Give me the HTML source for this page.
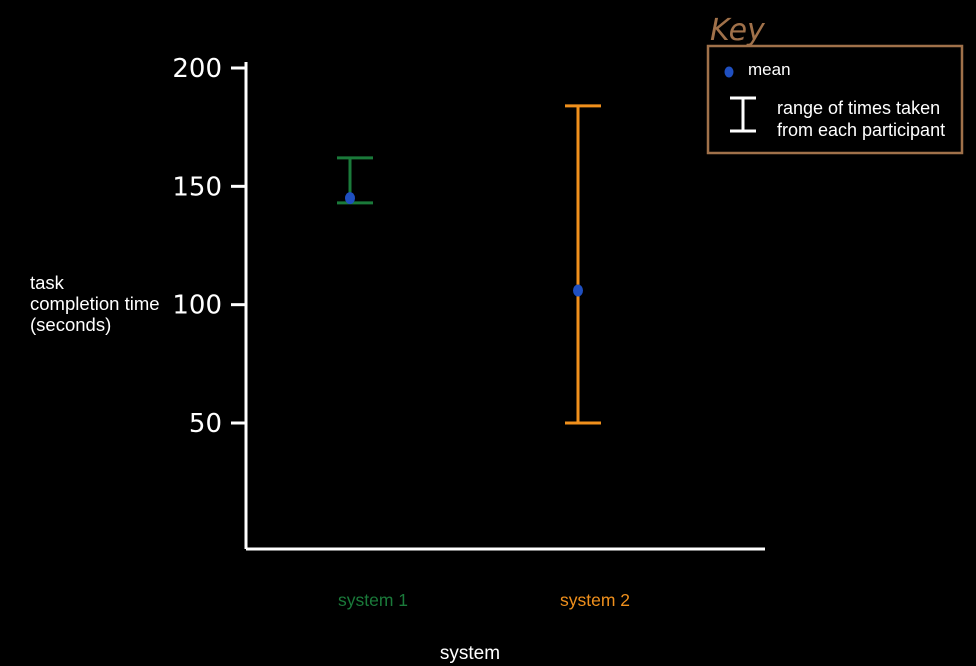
<!DOCTYPE html>
<html><head><meta charset="utf-8"><style>
html,body{margin:0;padding:0;background:#000;width:976px;height:666px;overflow:hidden}
svg{display:block}
.hand{font-family:"Comic Sans MS","DejaVu Sans",sans-serif}
</style></head><body>
<svg id="chart" width="976" height="666" xmlns="http://www.w3.org/2000/svg">
<line x1="246" y1="62" x2="246" y2="549" stroke="#fff" stroke-width="3"/>
<line x1="246" y1="549" x2="765" y2="549" stroke="#fff" stroke-width="3"/>
<g id="ticks"></g>
<g id="marks"></g>
<text x="30" y="289" fill="#fff" font-family="Liberation Sans, sans-serif" font-size="18.5"><tspan x="30">task</tspan><tspan x="30" dy="21">completion time</tspan><tspan x="30" dy="21">(seconds)</tspan></text>
<text x="470" y="659" fill="#fff" text-anchor="middle" font-family="Liberation Sans, sans-serif" font-size="19">system</text>
<g>
<text x="710" y="40" fill="#a0714a" class="hand" font-size="30" font-style="italic">Key</text>
<rect x="708" y="46" width="254" height="107" fill="none" stroke="#a0714a" stroke-width="2.5"/>
<ellipse cx="729" cy="72" rx="4.5" ry="5.5" fill="#1f4fc0"/>
<text x="748" y="75" fill="#fff" font-family="Liberation Sans, sans-serif" font-size="17">mean</text>
<g stroke="#fff" stroke-width="3">
<line x1="730" y1="98" x2="756" y2="98"/><line x1="743" y1="98" x2="743" y2="131"/><line x1="730" y1="131" x2="756" y2="131"/></g>
<text fill="#fff" font-family="Liberation Sans, sans-serif" font-size="18"><tspan x="777" y="114">range of times taken</tspan><tspan x="777" y="136">from each participant</tspan></text>
</g>
</svg>
<script>
const categories=["system 1","system 2"];
const colors=["#1a7a3a","#f0901c"];
const lows=[143,50];
const highs=[162,184];
const means=[145,106];
const tickValues=[50,100,150,200];
const tickLabels=["50","100","150","200"];
const NS="http://www.w3.org/2000/svg";
function y(v){return 423-(v-50)*(355/150);}
function x(i){return [350,578][i];}
function mk(tag,attrs,parent){const e=document.createElementNS(NS,tag);for(const k in attrs)e.setAttribute(k,attrs[k]);parent.appendChild(e);return e;}
const tg=document.getElementById('ticks');
tickValues.forEach((v,i)=>{
  const l=mk('line',{x1:231,y1:y(v),x2:246,y2:y(v),stroke:'#fff','stroke-width':3},tg);
  
  
  const t=mk('text',{x:222,y:y(v)+9,fill:'#fff','text-anchor':'end','font-size':26,class:'hand'},tg);
  t.textContent=tickLabels[i];
  
  
});
const mg=document.getElementById('marks');
categories.forEach((c,i)=>{
  const g=mk('g',{stroke:colors[i],'stroke-width':3},mg);
  
  
  mk('line',{x1:x(i)-13,y1:y(highs[i]),x2:x(i)+23,y2:y(highs[i])},g);
  mk('line',{x1:x(i),y1:y(highs[i]),x2:x(i),y2:y(lows[i])},g);
  mk('line',{x1:x(i)-13,y1:y(lows[i]),x2:x(i)+23,y2:y(lows[i])},g);
  const m=mk('ellipse',{cx:x(i),cy:y(means[i]),rx:5,ry:6,fill:'#1f4fc0'},mg);
  
  
  const t=mk('text',{x:x(i)+(i===0?23:17),y:606,fill:colors[i],'text-anchor':'middle','font-family':'Liberation Sans, sans-serif','font-size':17.5},mg);
  t.textContent=c;
  
  
});
</script>
</body></html>
